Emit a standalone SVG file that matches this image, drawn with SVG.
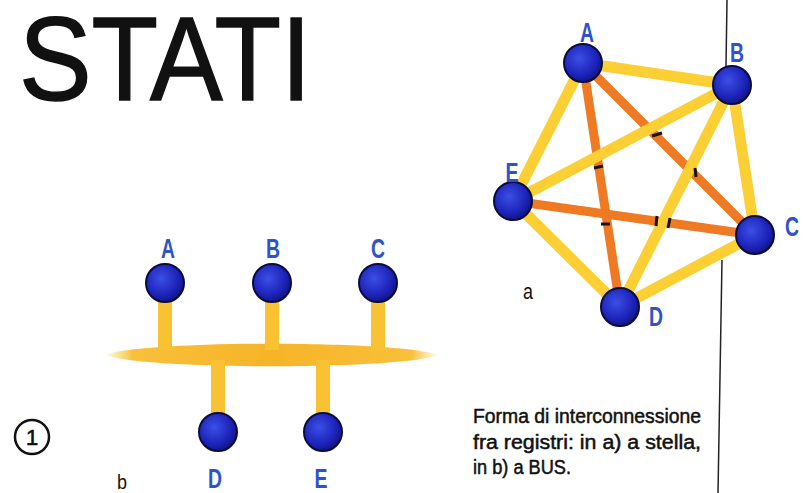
<svg xmlns="http://www.w3.org/2000/svg" width="803" height="493" viewBox="0 0 803 493">
<defs>
<radialGradient id="ball" cx="0.4" cy="0.38" r="0.65">
<stop offset="0" stop-color="#3b4fe6"/>
<stop offset="0.7" stop-color="#1c22b8"/>
<stop offset="1" stop-color="#10157a"/>
</radialGradient>
<linearGradient id="busg" x1="0" y1="0" x2="1" y2="0">
<stop offset="0" stop-color="#fbd45a" stop-opacity="0.15"/>
<stop offset="0.08" stop-color="#f9c03a"/>
<stop offset="0.5" stop-color="#f6b428"/>
<stop offset="0.92" stop-color="#f9c03a"/>
<stop offset="1" stop-color="#fbd45a" stop-opacity="0.15"/>
</linearGradient>
</defs>
<style>
.ball{fill:url(#ball);stroke:#0a0c3c;stroke-width:2}
.lbl{font-family:"Liberation Sans",Arial,sans-serif;font-weight:bold;font-size:27px;fill:#2d52cc;text-anchor:middle}
.y{stroke:#fccf34;stroke-width:11;stroke-linecap:butt}
.o{stroke:#ef7a24;stroke-width:9;stroke-linecap:butt}
.tick{stroke:#1a1208;stroke-width:3}
.stub{fill:#f8c232}
.txt{font-family:"Liberation Sans",Arial,sans-serif;fill:#111}
</style>
<rect width="803" height="493" fill="#ffffff"/>
<text class="txt" transform="translate(19,100) scale(0.915,1)" x="0" y="0" font-size="119" stroke="#111" stroke-width="1.5">STATI</text>
<g id="vline" stroke="#222" stroke-width="1.5">
<line x1="727" y1="0" x2="726" y2="66"/>
<line x1="722" y1="260" x2="718" y2="493"/>
</g>
<g id="connectors">
<g id="star-edges">
<line class="o" x1="583" y1="63" x2="755" y2="235"/>
<line class="o" x1="583" y1="63" x2="620" y2="307"/>
<line class="o" x1="513" y1="201" x2="755" y2="235"/>
<line class="y" x1="583" y1="63" x2="732" y2="85"/>
<line class="y" x1="732" y1="85" x2="755" y2="235"/>
<line class="y" x1="755" y1="235" x2="620" y2="307"/>
<line class="y" x1="620" y1="307" x2="513" y2="201"/>
<line class="y" x1="513" y1="201" x2="583" y2="63"/>
<line class="y" x1="732" y1="85" x2="513" y2="201"/>
<line class="y" x1="732" y1="85" x2="620" y2="307"/>
<line class="tick" x1="652" y1="136" x2="662" y2="133"/>
<line class="tick" x1="695" y1="168" x2="696" y2="177"/>
<line class="tick" x1="594" y1="168" x2="603" y2="166"/>
<line class="tick" x1="601" y1="224" x2="610" y2="224"/>
<line class="tick" x1="657" y1="216" x2="656" y2="226"/>
<line class="tick" x1="670" y1="218" x2="668" y2="228"/>
</g>
<g id="bus">
<path d="M106,355 C140,340 400,340 438,355 C400,370 140,370 106,355 Z" fill="url(#busg)"/>
<rect class="stub" x="158" y="298" width="14" height="52"/>
<rect class="stub" x="265" y="298" width="14" height="52"/>
<rect class="stub" x="371" y="298" width="14" height="52"/>
<rect class="stub" x="211" y="360" width="14" height="56"/>
<rect class="stub" x="316" y="360" width="14" height="56"/>
</g>
</g>
<g id="star-A"><circle class="ball" cx="583" cy="63" r="19"/><text class="lbl" x="587" y="42" textLength="14" lengthAdjust="spacingAndGlyphs">A</text></g>
<g id="star-B"><circle class="ball" cx="732" cy="85" r="19"/><text class="lbl" x="737" y="62" textLength="14" lengthAdjust="spacingAndGlyphs">B</text></g>
<g id="star-C"><circle class="ball" cx="755" cy="235" r="19"/><text class="lbl" x="792" y="236" textLength="14" lengthAdjust="spacingAndGlyphs">C</text></g>
<g id="star-D"><circle class="ball" cx="620" cy="307" r="19"/><text class="lbl" x="656" y="326" textLength="14" lengthAdjust="spacingAndGlyphs">D</text></g>
<g id="star-E"><circle class="ball" cx="513" cy="201" r="19"/><text class="lbl" x="512" y="182" textLength="13" lengthAdjust="spacingAndGlyphs">E</text></g>
<text class="txt" x="528" y="299" font-size="22" text-anchor="middle" textLength="10" lengthAdjust="spacingAndGlyphs">a</text>
<g id="bus-A"><circle class="ball" cx="165" cy="283" r="19"/><text class="lbl" x="168" y="258" textLength="14" lengthAdjust="spacingAndGlyphs">A</text></g>
<g id="bus-B"><circle class="ball" cx="272" cy="283" r="19"/><text class="lbl" x="273" y="258" textLength="14" lengthAdjust="spacingAndGlyphs">B</text></g>
<g id="bus-C"><circle class="ball" cx="378" cy="283" r="19"/><text class="lbl" x="378" y="258" textLength="14" lengthAdjust="spacingAndGlyphs">C</text></g>
<g id="bus-D"><circle class="ball" cx="218" cy="432" r="19"/><text class="lbl" x="215" y="488" textLength="14" lengthAdjust="spacingAndGlyphs">D</text></g>
<g id="bus-E"><circle class="ball" cx="323" cy="432" r="19"/><text class="lbl" x="321" y="488" textLength="13" lengthAdjust="spacingAndGlyphs">E</text></g>
<text class="txt" x="122" y="489" font-size="21" text-anchor="middle" textLength="10" lengthAdjust="spacingAndGlyphs">b</text>
<g id="fig-num">
<circle cx="32" cy="437" r="17" fill="none" stroke="#111" stroke-width="2.5"/>
<text class="txt" x="32" y="445" font-size="22" text-anchor="middle" stroke="#111" stroke-width="0.6">1</text>
</g>
<g id="caption" class="txt" font-size="20" stroke="#111" stroke-width="0.5">
<text x="473" y="423" textLength="228" lengthAdjust="spacingAndGlyphs">Forma di interconnessione</text>
<text x="473" y="449" textLength="228" lengthAdjust="spacingAndGlyphs">fra registri: in a) a stella,</text>
<text x="473" y="474" textLength="98" lengthAdjust="spacingAndGlyphs">in b) a BUS.</text>
</g>
</svg>
